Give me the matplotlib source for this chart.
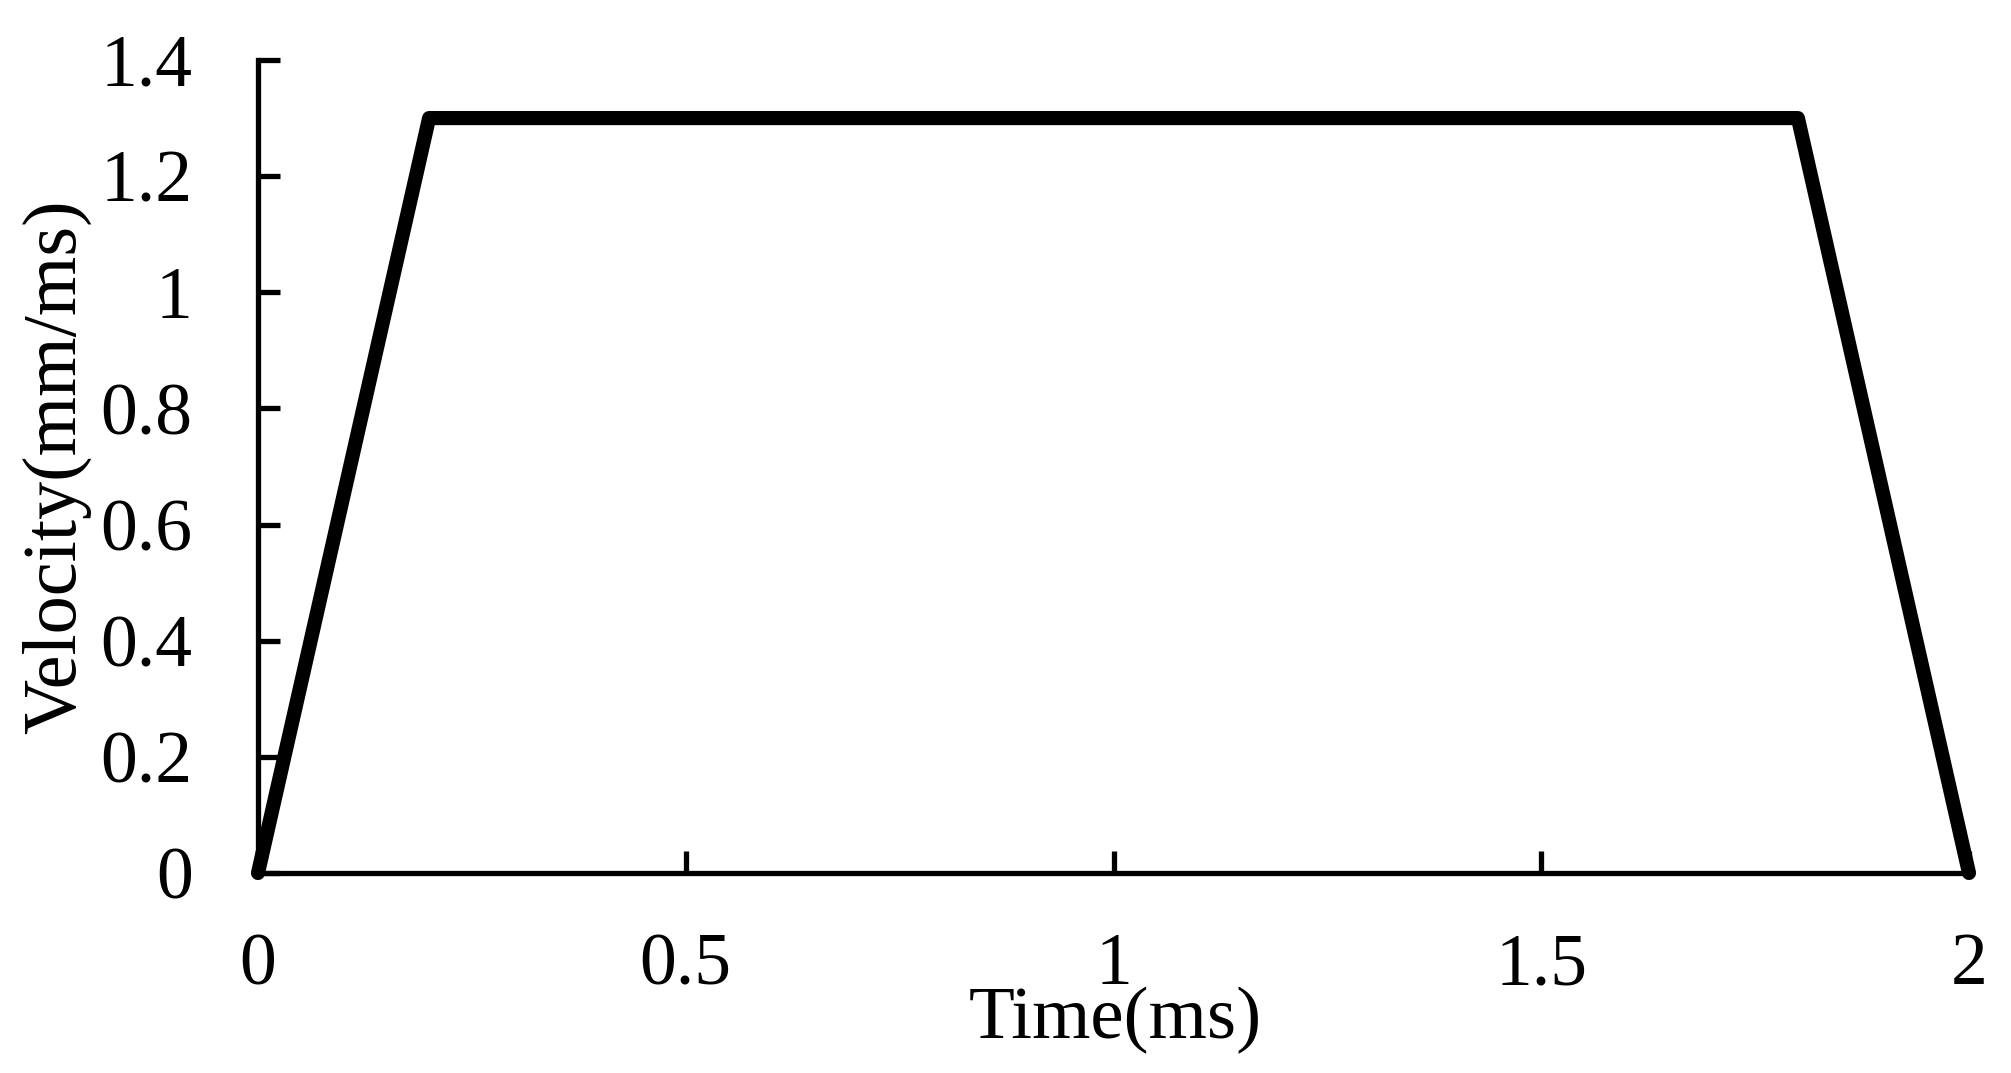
import numpy as np
import matplotlib
matplotlib.use("Agg")
import matplotlib.pyplot as plt

# Trapezoidal velocity profile
time_ms = [0, 0.2, 1.8, 2.0]
velocity = [0, 1.3, 1.3, 0]

x_ticks = [0, 0.5, 1, 1.5, 2]
x_tick_labels = ["0", "0.5", "1", "1.5", "2"]
y_ticks = [0, 0.2, 0.4, 0.6, 0.8, 1.0, 1.2, 1.4]
y_tick_labels = ["0", "0.2", "0.4", "0.6", "0.8", "1", "1.2", "1.4"]

plt.rcParams["font.family"] = ["Liberation Serif", "DejaVu Serif"]
plt.rcParams["font.size"] = 53

fig = plt.figure(figsize=(20.11, 10.73), dpi=100)
ax = fig.add_axes([258 / 2011, 1 - 873 / 1073, 1711 / 2011, 813 / 1073])

ax.plot(time_ms, velocity, color="black", linewidth=10.2,
        solid_capstyle="round", solid_joinstyle="round", clip_on=False, zorder=3)

ax.set_xlim(0, 2)
ax.set_ylim(0, 1.4)
ax.set_xticks(x_ticks)
ax.set_xticklabels(x_tick_labels)
ax.set_yticks(y_ticks)
ax.set_yticklabels(y_tick_labels)

for side in ["top", "right"]:
    ax.spines[side].set_visible(False)
for side in ["left", "bottom"]:
    ax.spines[side].set_linewidth(3.8)

ax.tick_params(axis="both", direction="in", length=16, width=3.8, labelsize=53)
ax.tick_params(axis="y", pad=47)
ax.tick_params(axis="x", pad=43)

ax.set_xlabel("Time(ms)", fontsize=54)
ax.xaxis.set_label_coords(0.501, -0.203)
ax.xaxis.label.set_va("baseline")

ax.set_ylabel("Velocity(mm/ms)", fontsize=55)
ax.yaxis.set_label_coords(-0.0977, 0.5)

fig.savefig("out.png", dpi=100, facecolor="white")
